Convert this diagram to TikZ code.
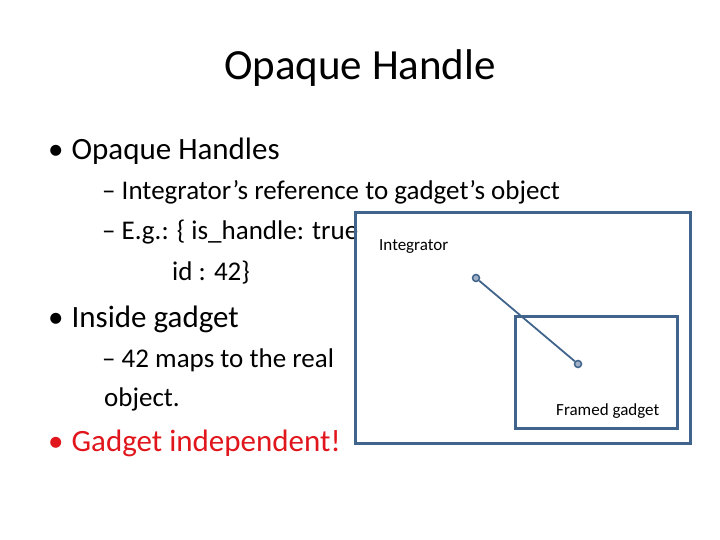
\documentclass[tikz,border=0pt]{standalone}
\usepackage{fontspec}
\setmainfont{Carlito}
\begin{document}
\begin{tikzpicture}[x=1pt,y=-1pt,
  txt/.style={anchor=base west,inner sep=0pt},
  frame/.style={draw=boxc,line width=3pt},
  dot/.style={circle,draw=boxc,fill=boxc!50,line width=1.5pt,minimum size=7pt,inner sep=0pt}]
\definecolor{boxc}{HTML}{41648C}
\definecolor{redc}{HTML}{E0161C}
\useasboundingbox (0,0) rectangle (720,540);
\node[anchor=base,inner sep=0pt,font=\fontsize{43}{46}\selectfont] (title) at (360,80) {Opaque Handle};
\node[txt,font=\fontsize{31}{34}\selectfont] (b1) at (48,160) {\textbullet\hspace{8pt}Opaque Handles};
\node[txt,font=\fontsize{27}{30}\selectfont] (s1) at (102,200) {– Integrator’s reference to gadget’s object};
\node[txt,font=\fontsize{27}{30}\selectfont] (s2) at (102,240) {– E.g.: \{ is\_handle: true};
\node[txt,font=\fontsize{27}{30}\selectfont] (s3) at (172,280) {id : 42\}};
\node[txt,font=\fontsize{31}{34}\selectfont] (b2) at (48,327) {\textbullet\hspace{8pt}Inside gadget};
\node[txt,font=\fontsize{27}{30}\selectfont] (s4) at (102,367) {– 42 maps to the real};
\node[txt,font=\fontsize{27}{30}\selectfont] (s5) at (104,406) {object.};
\node[txt,font=\fontsize{31}{34}\selectfont,text=redc] (b3) at (48,451) {\textbullet\hspace{8pt}Gadget independent!};
\draw[frame] (355,213) rectangle (690,443);
\node[txt,font=\fontsize{17}{19}\selectfont] (integ) at (379,251) {Integrator};
\draw[frame] (515,316) rectangle (677,428);
\node[txt,font=\fontsize{17}{19}\selectfont] (fg) at (556,415) {Framed gadget};
\node[dot] (p1) at (476,278) {};
\node[dot] (p2) at (578,364) {};
\draw[boxc,line width=1.8pt] (p1) -- (p2);
\end{tikzpicture}
\end{document}
